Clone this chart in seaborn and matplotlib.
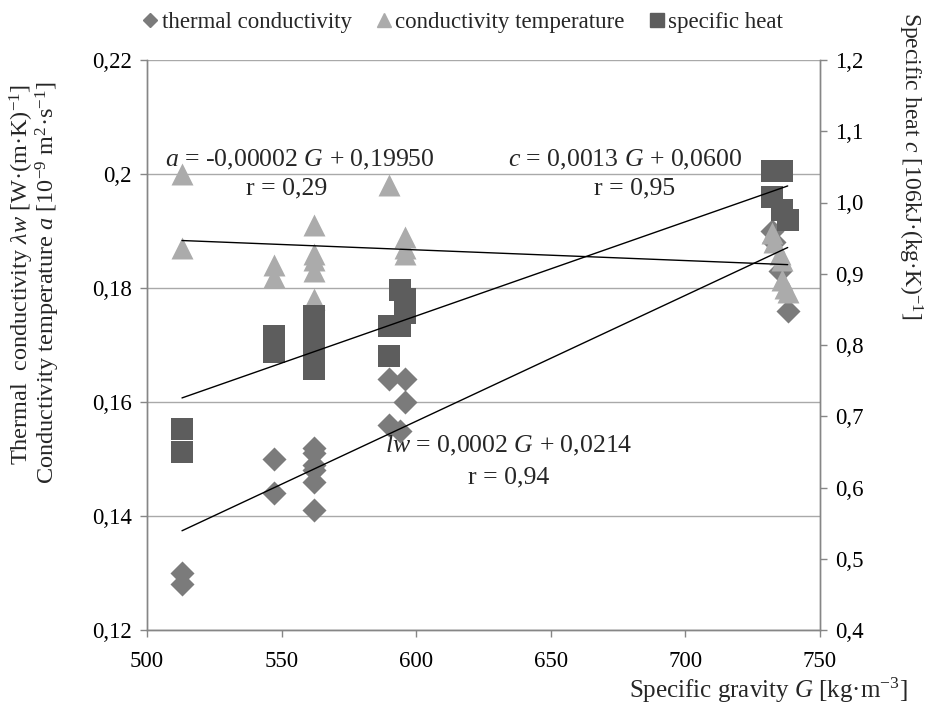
import numpy as np
import pandas as pd
import matplotlib
matplotlib.use("Agg")
import matplotlib.pyplot as plt
import seaborn as sns
from matplotlib.lines import Line2D

# ---------------- data ----------------
tc_G = [513, 513, 547, 547, 562, 562, 562, 562, 562, 562,
        590, 596, 596, 590, 594, 732, 733, 735, 738]
tc_val = [0.130, 0.128, 0.150, 0.144, 0.152, 0.151, 0.149, 0.148, 0.146, 0.141,
          0.164, 0.164, 0.160, 0.156, 0.155, 0.190, 0.188, 0.183, 0.176]

ct_G = [513, 513, 547, 547, 562, 562, 562, 562, 562,
        590, 596, 596, 596, 732, 733, 735, 736, 736, 737, 738]
ct_val = [0.200, 0.187, 0.184, 0.182, 0.191, 0.186, 0.185, 0.183, 0.178,
          0.198, 0.189, 0.187, 0.186, 0.1896, 0.188, 0.186, 0.185, 0.1814, 0.180, 0.1793]

sh_G = [513, 513, 547, 547, 562, 562, 562, 562, 562,
        594, 596, 596, 590, 594, 590, 732, 736, 732, 736, 738]
sh_val = [0.682, 0.650, 0.813, 0.790, 0.841, 0.821, 0.800, 0.783, 0.766,
          0.877, 0.865, 0.845, 0.827, 0.827, 0.785, 1.044, 1.044, 1.008, 0.989, 0.975]

x_ticks = [500, 550, 600, 650, 700, 750]
left_ticks = [0.12, 0.14, 0.16, 0.18, 0.20, 0.22]
left_tick_labels = ["0,12", "0,14", "0,16", "0,18", "0,2", "0,22"]
right_ticks = [0.4, 0.5, 0.6, 0.7, 0.8, 0.9, 1.0, 1.1, 1.2]
right_tick_labels = ["0,4", "0,5", "0,6", "0,7", "0,8", "0,9", "1,0", "1,1", "1,2"]

series_names = ["thermal conductivity", "conductivity temperature", "specific heat"]

# ---------------- style ----------------
sns.set_style("white")
plt.rcParams['font.family'] = ['Liberation Serif', 'DejaVu Serif']
plt.rcParams['mathtext.fontset'] = 'custom'
plt.rcParams['mathtext.rm'] = 'Liberation Serif'
plt.rcParams['mathtext.it'] = 'Liberation Serif:italic'
plt.rcParams['mathtext.bf'] = 'Liberation Serif:bold'

c_tc = '#7b7b7b'
c_ct = '#ababab'
c_sh = '#5d5d5d'
spine_c = '#868686'
grid_c = '#a9a9a9'

W, H = 928, 709
fig = plt.figure(figsize=(W / 100, H / 100), dpi=100)
ax = fig.add_axes([147 / W, 1 - 630 / H, (820 - 147) / W, (630 - 60) / H])
ax2 = ax.twinx()

df_tc = pd.DataFrame({"G": tc_G, "v": tc_val})
df_ct = pd.DataFrame({"G": ct_G, "v": ct_val})
df_sh = pd.DataFrame({"G": sh_G, "v": sh_val})

sns.scatterplot(data=df_tc, x="G", y="v", marker="D", s=150, color=c_tc,
                linewidth=0, ax=ax, zorder=3, legend=False)
sns.scatterplot(data=df_ct, x="G", y="v", marker="^", s=250, color=c_ct,
                linewidth=0, ax=ax, zorder=4, legend=False)
sns.regplot(data=df_tc, x="G", y="v", scatter=False, ci=None, ax=ax,
            line_kws=dict(color='black', lw=1, zorder=5))
sns.regplot(data=df_ct, x="G", y="v", scatter=False, ci=None, ax=ax,
            line_kws=dict(color='black', lw=1, zorder=5))

sns.scatterplot(data=df_sh, x="G", y="v", marker="s", s=250, color=c_sh,
                linewidth=0, ax=ax2, zorder=3, legend=False)
sns.regplot(data=df_sh, x="G", y="v", scatter=False, ci=None, ax=ax2,
            line_kws=dict(color='black', lw=1, zorder=5))

ax.set_xlim(500, 750)
ax.set_ylim(0.12, 0.22)
ax2.set_ylim(0.4, 1.2)

ax.set_xticks(x_ticks)
ax.set_xticklabels([str(t) for t in x_ticks])
ax.set_yticks(left_ticks)
ax.set_yticklabels(left_tick_labels)
ax2.set_yticks(right_ticks)
ax2.set_yticklabels(right_tick_labels)

ax.set_xlabel("")
ax.set_ylabel("")
ax2.set_ylabel("")

ax.yaxis.grid(True, color=grid_c, lw=1)
ax.xaxis.grid(False)
ax.set_axisbelow(True)

for a in (ax, ax2):
    a.spines['top'].set_visible(False)
    for sp in ('left', 'right', 'bottom'):
        a.spines[sp].set_color(spine_c)
        a.spines[sp].set_linewidth(1)

fs_tick = 16.5
ax.tick_params(axis='both', direction='out', length=5, width=1, color=spine_c,
               labelsize=fs_tick, labelcolor='black')
ax.tick_params(axis='y', pad=6, left=True)
ax.tick_params(axis='x', pad=10, bottom=True)
ax2.tick_params(axis='y', direction='out', length=5, width=1, color=spine_c,
                labelsize=fs_tick, labelcolor='black', pad=6, right=True)

# ---------------- annotations ----------------
fs_ann = 18.5
ax.text(556.8, 0.2025, "$a$ = -0,00002 $G$ + 0,19950", ha='center', va='center', fontsize=fs_ann)
ax.text(552, 0.1975, "r = 0,29", ha='center', va='center', fontsize=fs_ann)
ax.text(677.6, 0.2025, "$c$ = 0,0013 $G$ + 0,0600", ha='center', va='center', fontsize=fs_ann)
ax.text(681, 0.1975, "r = 0,95", ha='center', va='center', fontsize=fs_ann)
ax.text(634.5, 0.1523, "$lw$ = 0,0002 $G$ + 0,0214", ha='center', va='center', fontsize=fs_ann)
ax.text(634.5, 0.1468, "r = 0,94", ha='center', va='center', fontsize=fs_ann)

# ---------------- axis titles ----------------
fig.text(908 / W, 1 - 690 / H, "Specific gravity $G$ [kg·m$^{-3}$]",
         ha='right', va='center', fontsize=18)
fig.text(22 / W, 1 - 275 / H, "Thermal  conductivity $λw$ [W·(m·K)$^{-1}$]",
         ha='center', va='center', rotation=90, fontsize=17.5)
fig.text(48 / W, 1 - 283 / H, "Conductivity temperature $a$ [10$^{-9}$ m$^{2}$·s$^{-1}$]",
         ha='center', va='center', rotation=90, fontsize=17.5)
fig.text(910 / W, 1 - 166 / H, "Specific heat $c$ [106kJ·(kg·K)$^{-1}$]",
         ha='center', va='center', rotation=270, fontsize=17)

# ---------------- legend ----------------
handles = [
    Line2D([], [], marker='D', color=c_tc, linestyle='', markersize=7),
    Line2D([], [], marker='^', color=c_ct, linestyle='', markersize=10),
    Line2D([], [], marker='s', color=c_sh, linestyle='', markersize=10),
]
fig.legend(handles, series_names, loc='center', bbox_to_anchor=(462 / W, 1 - 22 / H),
           ncol=3, frameon=False, fontsize=16.5, handlelength=0.8, handletextpad=0.1,
           columnspacing=1.0, borderaxespad=0)

fig.savefig("out.png", dpi=100)
